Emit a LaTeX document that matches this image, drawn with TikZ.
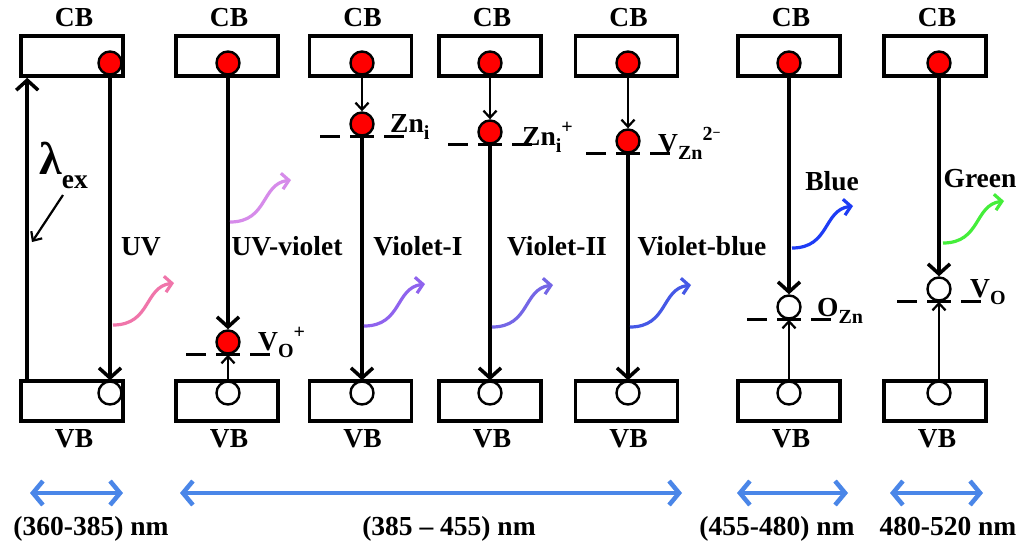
\documentclass[tikz,border=0pt]{standalone}
\usepackage{fontspec}
\setmainfont{Liberation Serif}
\usetikzlibrary{arrows.meta,calc}
\definecolor{pinkw}{HTML}{F075AA}
\definecolor{uvv}{HTML}{D68BEA}
\definecolor{vione}{HTML}{8F63EE}
\definecolor{vitwo}{HTML}{7466E6}
\definecolor{vib}{HTML}{4558E6}
\definecolor{bluew}{HTML}{1E3CF5}
\definecolor{greenw}{HTML}{44EE3A}
\definecolor{rangeblue}{HTML}{4A86E8}
\newcommand\lsb[1]{\raisebox{-7pt}{\fontsize{20}{20}\selectfont #1}}
\newcommand\lsp[1]{\raisebox{12pt}{\fontsize{20}{20}\selectfont #1}}
\begin{document}
\begin{tikzpicture}[x=1pt,y=-1pt,
  font=\bfseries\fontsize{27.5}{30}\selectfont,
  every node/.style={inner sep=0pt},
  band/.style={draw, line width=3.6pt, minimum width=102pt, minimum height=40pt},
  elec/.style={circle, draw, line width=2.4pt, fill=red, minimum size=23pt},
  hole/.style={circle, draw, line width=2.4pt, fill=white, minimum size=23pt},
  tr/.style={line width=3.5pt, -{Straight Barb[length=10pt,width=22pt]}},
  tn/.style={line width=2.2pt, -{Straight Barb[length=7pt,width=13pt]}},
  level/.style={line width=2.6pt, dash pattern=on 20pt off 10pt on 24pt off 10pt on 20pt},
  wav/.style={line width=3.2pt, -{Straight Barb[length=7pt,width=16pt]}},
  rng/.style={line width=4.5pt, draw=rangeblue, {Straight Barb[length=10pt,width=24pt]}-{Straight Barb[length=10pt,width=24pt]}}
]
\fill[white] (0,0) rectangle (1026,544);
\useasboundingbox (0,0) rectangle (1026,544);

% bands
\foreach \i/\x in {1/72,2/227,3/360.5,4/490,5/626.5,6/789,7/935}{
  \node[band] (cb\i) at (\x,56) {};
  \node[band] (vb\i) at (\x,401) {};
  \node[anchor=base] (cbl\i) at ($(cb\i.north)+(2,-7.5)$) {CB};
  \node[anchor=base] (vbl\i) at ($(vb\i.south)+(2,25)$) {VB};
}

% carriers in bands
\foreach \i/\x in {1/110,2/228,3/362,4/490,5/628,6/789,7/939}{
  \node[elec] (e\i) at (\x,63) {};
  \node[hole] (h\i) at (\x,393) {};
}

% defect levels
\node[elec] (d2) at (228,342) {};
\node[elec] (d3) at (362,124) {};
\node[elec] (d4) at (490,132) {};
\node[elec] (d5) at (628,141) {};
\node[hole] (d6) at (789,307) {};
\node[hole] (d7) at (939,289) {};
\foreach \d in {2,3,4,5,6,7}{
  \draw[level] ($(d\d.south)+(-42,0)$) -- ($(d\d.south)+(42,0)$);
}
\node[anchor=base west] (l2) at ($(d2.south)+(30,-4)$) {V\lsb{O}\lsp{+}};
\node[anchor=base west] (l3) at ($(d3.south)+(28,-4)$) {Zn\lsb{i}};
\node[anchor=base west] (l4) at ($(d4.south)+(32,1)$) {Zn\lsb{i}\lsp{+}};
\node[anchor=base west] (l5) at ($(d5.south)+(30,-1)$) {V\lsb{Zn}\lsp{2\raisebox{3pt}{\fontsize{14}{14}\selectfont −}}};
\node[anchor=base west] (l6) at ($(d6.south)+(28,-3)$) {O\lsb{Zn}};
\node[anchor=base west] (l7) at ($(d7.south)+(31,-4)$) {V\lsb{O}};

% transitions
\draw[tr] ($(vb1.north west)+(8,0)$) -- ($(cb1.south west)+(8,0)$);
\draw[tr] (e1.south) -- (h1.north);
\draw[tr] (e2.south) -- (d2.north);
\draw[tn] (h2.north) -- (d2.south);
\foreach \i in {3,4,5}{
  \draw[tn] (e\i.south) -- (d\i.north);
  \draw[tr] (d\i.south) -- (h\i.north);
}
\foreach \i in {6,7}{
  \draw[tr] (e\i.south) -- (d\i.north);
  \draw[tn] (h\i.north) -- (d\i.south);
}

% excitation label
\node[anchor=base west] (lam) at (39,174) {{\fontsize{46}{46}\selectfont λ}\raisebox{-14pt}{ex}};
\coordinate (lamtip) at (32,242);
\draw[tn] (63,195) -- (lamtip);

% emission labels
\node[anchor=base] (t1) at (141,255) {UV};
\node[anchor=base] (t2) at (287,255) {UV-violet};
\node[anchor=base] (t3) at (418,255) {Violet-I};
\node[anchor=base] (t4) at (557,255) {Violet-II};
\node[anchor=base] (t5) at (702,255) {Violet-blue};
\node[anchor=base] (t6) at (832,190) {Blue};
\node[anchor=base] (t7) at (980,187) {Green};

% wavy photons
\foreach \n/\sx/\sy/\c in {1/113/325/pinkw,2/230/222/uvv,3/364/326/vione,4/492/327/vitwo,5/630/327/vib,6/792/248/bluew,7/943/243/greenw}{
  \coordinate (ws\n) at (\sx,\sy);
  \coordinate (we\n) at ($(ws\n)+(61,-42)$);
  \draw[wav, draw=\c] (ws\n) .. controls +(38,0) and +(-30,4) .. (we\n);
}

% ranges
\coordinate (r1a) at (30,493);  \coordinate (r1b) at (123,493);
\coordinate (r2a) at (180,493); \coordinate (r2b) at (682,493);
\coordinate (r3a) at (737,493); \coordinate (r3b) at (848,493);
\coordinate (r4a) at (890,493); \coordinate (r4b) at (983,493);
\draw[rng] (r1a) -- (r1b);
\draw[rng] (r2a) -- (r2b);
\draw[rng] (r3a) -- (r3b);
\draw[rng] (r4a) -- (r4b);
\node[anchor=base] (n1) at (91,535) {(360-385) nm};
\node[anchor=base] (n2) at (449,535) {(385 – 455) nm};
\node[anchor=base] (n3) at (777,535) {(455-480) nm};
\node[anchor=base] (n4) at (948,535) {480-520 nm};
\end{tikzpicture}
\end{document}
